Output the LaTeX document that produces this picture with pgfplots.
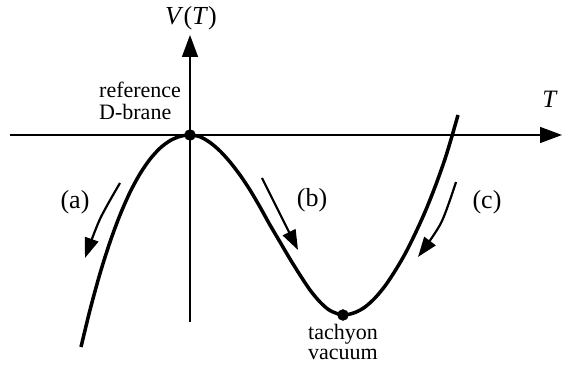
\documentclass[border=0pt]{standalone}
\usepackage{pgfplots}
\pgfplotsset{compat=1.18}
\usepackage{fontspec}
\setmainfont{Liberation Serif}
\usetikzlibrary{arrows.meta}
\begin{document}
\begin{tikzpicture}
\begin{axis}[
  x=1pt, y=1pt,
  axis lines=middle,
  xmin=-180, xmax=372, ymin=-187, ymax=100,
  xtick=\empty, ytick=\empty,
  axis line style={line width=1.5pt, -{Triangle[length=22pt,width=16pt]}},
  clip=false,
]
% bounding box of the picture
\path (axis cs:-190,135) rectangle (axis cs:373,-231);
% potential V(T)
\addplot[black, line width=3.5pt, smooth, tension=0.5] coordinates {
(-109,-212) (-100,-175) (-90,-138.5) (-80,-107) (-70,-80) (-60,-57.3) (-50,-38.8)
(-40,-24.2) (-30,-13.2) (-20,-5.7) (-10,-1.4) (0,0)
(10,-1.8) (20,-7.5) (30,-16) (40,-27) (50,-40) (60,-55) (70,-72) (80,-90) (90,-107)
(100,-124) (110,-140) (120,-155) (130,-167) (140,-175.5) (153,-180)
(165,-177.5) (175,-172) (185,-163) (195,-151) (205,-136) (215,-119) (225,-99)
(235,-77) (245,-52) (255,-24) (262,-1) (268,20)
};
% points
\addplot[only marks, mark=*, mark size=5.5pt, black] coordinates {(0,0) (153,-180)};
% arrows (a), (b), (c)
\addplot[black, line width=2.2pt, smooth, -{Triangle[length=20pt,width=14pt]}] coordinates {(-70,-48) (-90,-84) (-105,-123)};
\addplot[black, line width=2.2pt, -{Triangle[length=20pt,width=14pt]}] coordinates {(72,-43) (108,-115)};
\addplot[black, line width=2.2pt, smooth, -{Triangle[length=20pt,width=14pt]}] coordinates {(266,-47) (251,-88) (228,-122)};
% labels
\node[font=\fontsize{26}{28}\selectfont] at (axis cs:-115,-67) {(a)};
\node[font=\fontsize{26}{28}\selectfont] at (axis cs:122,-65) {(b)};
\node[font=\fontsize{26}{28}\selectfont] at (axis cs:297,-67) {(c)};
\node[anchor=base west, inner sep=0pt, font=\fontsize{22}{24}\selectfont] at (axis cs:-91,37) {reference};
\node[anchor=base west, inner sep=0pt, font=\fontsize{22}{24}\selectfont] at (axis cs:-91,15) {D-brane};
\node[anchor=base, inner sep=0pt, font=\fontsize{22}{24}\selectfont] at (axis cs:153,-205) {tachyon};
\node[anchor=base, inner sep=0pt, font=\fontsize{22}{24}\selectfont] at (axis cs:153,-225) {vacuum};
\node[anchor=base, inner sep=0pt, font=\fontsize{26}{28}\selectfont] at (axis cs:1,110) {\textit{V}(\textit{T})};
\node[anchor=base, inner sep=0pt, font=\fontsize{25}{27}\selectfont] at (axis cs:360,27) {\textit{T}};
\end{axis}
\end{tikzpicture}
\end{document}
